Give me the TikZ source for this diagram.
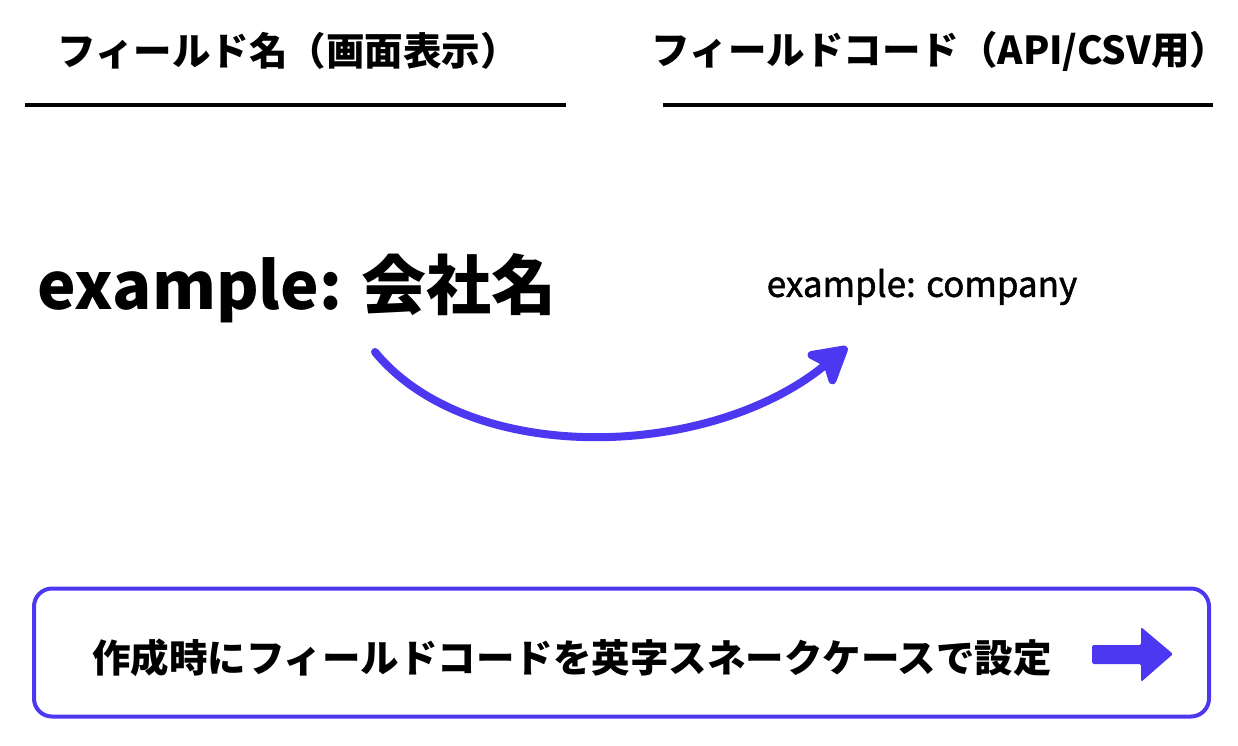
\documentclass[tikz,border=0pt]{standalone}
\usepackage{fontspec}
\setmainfont{Noto Sans CJK JP}
\newfontfamily\jpmedium{Noto Sans CJK JP}[UprightFeatures={FakeBold=1.5}]
\usetikzlibrary{arrows.meta,positioning}
\definecolor{accent}{RGB}{76,56,240}

\begin{document}
\begin{tikzpicture}[x=1pt,y=-1pt,
  header/.style={font=\fontsize{38.5}{46}\selectfont\bfseries, inner sep=0pt},
  headrule/.style={line width=4pt}]
\useasboundingbox[fill=white] (0,0) rectangle (1238,745);

% Column headers
\node[header] (namehead) at (288,51) {フィールド名（画面表示）};
\node[header] (codehead) at (940,51) {フィールドコード（API/CSV用）};
\draw[headrule] (25,105) -- (566,105);
\draw[headrule] (663,105) -- (1213,105);

% Example values
\node[font=\fontsize{65}{78}\selectfont\bfseries, inner sep=0pt] (jpname) at (297,288) {example: 会社名};
\node[font=\fontsize{35}{42}\jpmedium, inner sep=0pt] (codename) at (922,287) {example: company};

% Curved arrow
\coordinate (from) at (375,352);
\coordinate (to) at (847,347);
\draw[accent, line width=8pt, line cap=round, -{Stealth[round,length=44pt,width=50pt,inset=10pt]}] (from) .. controls (470,467) and (710,460) .. (to);

% Note box
\node[draw=accent, line width=4pt, rounded corners=18pt, minimum width=1175pt, minimum height=128pt] (note) at (621.5,652.5) {};
\node[font=\fontsize{38.5}{46}\selectfont\bfseries, inner sep=0pt] (notetext) at (572,658) {作成時にフィールドコードを英字スネークケースで設定};
\fill[accent, rounded corners=1.5pt] (1092,645) -- (1141,645) -- (1141,627) -- (1173,654) -- (1141,682) -- (1141,664) -- (1092,664) -- cycle;

\end{tikzpicture}
\end{document}
